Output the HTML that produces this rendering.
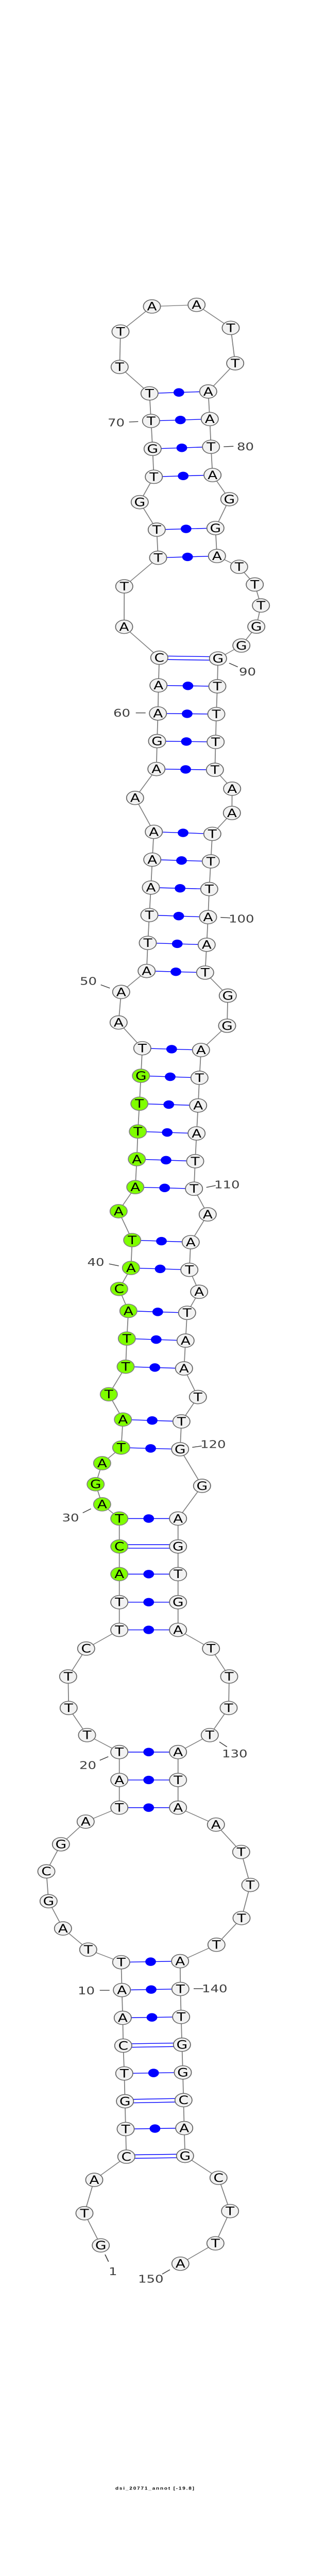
<!DOCTYPE html>
<html>
<head>
<meta charset="utf-8">
<style>
html,body{margin:0;padding:0;background:#fff;width:100%;height:100%;overflow:hidden}
svg{display:block;position:absolute;left:0;top:0;width:100vw;height:100vh}
.n text{font-family:"DejaVu Sans",sans-serif;font-size:28px;fill:#000;text-anchor:middle}
.l text{font-family:"DejaVu Sans",sans-serif;font-size:26px;fill:#404040}
.w circle{fill:#f2f2f2;stroke:#666;stroke-width:1.8}
.g circle{fill:#7fff00;stroke:#808080;stroke-width:1.8}
</style>
</head>
<body>
<svg xmlns="http://www.w3.org/2000/svg" viewBox="0 0 600 6332" preserveAspectRatio="none">
<rect width="600" height="6332" fill="#fff"/>
<!-- backbone -->
<polyline fill="none" stroke="#808080" stroke-width="1.8" points="195.7,5519.3 164,5440.3 183,5358.3 245.3,5301.3 244,5233.3 242.7,5165 241.3,5096.7 239.3,5028.3 238.3,4960 236.7,4891.7 235.3,4823.3 171.3,4792.3 122.3,4740.3 94.3,4673.3 90,4600 118.3,4533.3 166.3,4477.7 231.7,4443.3 231.7,4375.3 231.7,4306.7 169,4265 133.3,4198.3 132.3,4121 167.3,4052.3 231.7,4006.3 231.7,3938.3 231.7,3869.3 231.7,3801.3 231.7,3732.7 198.3,3697.7 185.7,3648.3 198.3,3596.7 235.3,3558.3 238.7,3489.3 211.3,3427.3 244,3359.3 246.3,3290.3 249.3,3222.3 231.3,3168.3 254.3,3116.7 256.7,3048.3 230.3,2977.3 262.7,2918 265.7,2849.3 267.7,2781.3 270.7,2713 273.7,2644.3 276.3,2576.7 230.3,2513.3 235.3,2438.3 284.7,2386.7 287,2317.7 290,2249.3 293,2181.7 295.7,2113 298.7,2044.7 262.3,1961.3 303.7,1890.3 305,1821.7 306.7,1753.7 307.7,1684.7 309.3,1616.7 241,1540.7 241.3,1441.3 307,1371 304.3,1302 271.3,1234.3 298.7,1172 296.3,1103.3 293.3,1034.7 290.3,967 232.3,902 234,815 295,753.3 381.7,749.3 448,806 456.7,893 404.3,962.3 407.3,1030 409.7,1098.3 412.7,1167.7 445.3,1227 418.3,1298 421.3,1366.7 464.3,1393.3 494.7,1436.7 506.7,1488.3 497.7,1540.3 468.7,1586.7 423.3,1618.7 422,1687 420,1755.3 418.7,1823.7 417.3,1892.3 450.7,1938.7 450.3,1998.3 412.3,2049.7 409.3,2117.3 406.3,2185.3 404,2254.3 401.3,2322.3 398.3,2390.7 442.3,2447.3 441,2521.3 390.3,2581 387.3,2649.3 384.7,2717.3 381.7,2786 379,2854.3 376.7,2922 403.3,2985 370.3,3053.3 367.7,3121.3 386.7,3175.3 363.3,3227 360.3,3295.3 357.3,3363.7 384.3,3434 352.3,3494 349.7,3562.3 392.3,3652.3 345.7,3732.7 345.7,3801.3 345.7,3869.3 345.7,3938.3 345.7,4006.3 409.7,4052.3 445,4121 444,4198.3 407.3,4265 345.7,4306.7 345.7,4375.3 345.7,4443.3 419.3,4485 468.3,4552.3 486,4633.3 469,4714.7 420.3,4780.3 349.7,4820.7 350.3,4889 351.7,4957.7 353.3,5026 355,5094.3 356.3,5162.3 357.7,5231 359.3,5299.3 424.3,5353.3 446.7,5435 418.3,5514.3 350.3,5564.3"/>
<!-- base pairs -->
<path fill="none" stroke="#0000ff" stroke-width="1.8" d="M309.3,1612.4L423.3,1614.4M309.3,1621L423.3,1623M231.7,3797L345.7,3797M231.7,3805.6L345.7,3805.6M239.3,5024L353.3,5021.7M239.3,5032.6L353.3,5030.3M242.7,5160.7L356.3,5158M242.7,5169.3L356.3,5166.6M245.3,5297L359.3,5295M245.3,5305.6L359.3,5303.6M244,5233.3L357.7,5231M241.3,5096.7L355,5094.3M238.3,4960L351.7,4957.7M236.7,4891.7L350.3,4889M235.3,4823.3L349.7,4820.7M231.7,4443.3L345.7,4443.3M231.7,4375.3L345.7,4375.3M231.7,4306.7L345.7,4306.7M231.7,4006.3L345.7,4006.3M231.7,3938.3L345.7,3938.3M231.7,3869.3L345.7,3869.3M231.7,3732.7L345.7,3732.7M235.3,3558.3L349.7,3562.3M238.7,3489.3L352.3,3494M244,3359.3L357.3,3363.7M246.3,3290.3L360.3,3295.3M249.3,3222.3L363.3,3227M254.3,3116.7L367.7,3121.3M256.7,3048.3L370.3,3053.3M262.7,2918L376.7,2922M265.7,2849.3L379,2854.3M267.7,2781.3L381.7,2786M270.7,2713L384.7,2717.3M273.7,2644.3L387.3,2649.3M276.3,2576.7L390.3,2581M284.7,2386.7L398.3,2390.7M287,2317.7L401.3,2322.3M290,2249.3L404,2254.3M293,2181.7L406.3,2185.3M295.7,2113L409.3,2117.3M298.7,2044.7L412.3,2049.7M303.7,1890.3L417.3,1892.3M305,1821.7L418.7,1823.7M306.7,1753.7L420,1755.3M307.7,1684.7L422,1687M307,1371L421.3,1366.7M304.3,1302L418.3,1298M298.7,1172L412.7,1167.7M296.3,1103.3L409.7,1098.3M293.3,1034.7L407.3,1030M290.3,967L404.3,962.3"/>
<g fill="#0000ff">
<circle cx="300.9" cy="5232.2" r="10.4"/><circle cx="298.2" cy="5095.5" r="10.4"/><circle cx="295" cy="4958.9" r="10.4"/><circle cx="293.5" cy="4890.4" r="10.4"/><circle cx="292.5" cy="4822" r="10.4"/>
<circle cx="288.7" cy="4443.3" r="10.4"/><circle cx="288.7" cy="4375.3" r="10.4"/><circle cx="288.7" cy="4306.7" r="10.4"/><circle cx="288.7" cy="4006.3" r="10.4"/><circle cx="288.7" cy="3938.3" r="10.4"/><circle cx="288.7" cy="3869.3" r="10.4"/><circle cx="288.7" cy="3732.7" r="10.4"/>
<circle cx="292.5" cy="3560.3" r="10.4"/><circle cx="295.5" cy="3491.7" r="10.4"/><circle cx="300.7" cy="3361.5" r="10.4"/><circle cx="303.3" cy="3292.8" r="10.4"/><circle cx="306.3" cy="3224.7" r="10.4"/><circle cx="311" cy="3119" r="10.4"/><circle cx="313.5" cy="3050.8" r="10.4"/>
<circle cx="319.7" cy="2920" r="10.4"/><circle cx="322.4" cy="2851.8" r="10.4"/><circle cx="324.7" cy="2783.7" r="10.4"/><circle cx="327.7" cy="2715.2" r="10.4"/><circle cx="330.5" cy="2646.8" r="10.4"/><circle cx="333.3" cy="2578.9" r="10.4"/>
<circle cx="341.5" cy="2388.7" r="10.4"/><circle cx="344.2" cy="2320" r="10.4"/><circle cx="347" cy="2251.8" r="10.4"/><circle cx="349.7" cy="2183.5" r="10.4"/><circle cx="352.5" cy="2115.2" r="10.4"/><circle cx="355.5" cy="2047.2" r="10.4"/>
<circle cx="360.5" cy="1891.3" r="10.4"/><circle cx="361.9" cy="1822.7" r="10.4"/><circle cx="363.4" cy="1754.5" r="10.4"/><circle cx="364.9" cy="1685.9" r="10.4"/>
<circle cx="364.2" cy="1368.9" r="10.4"/><circle cx="361.3" cy="1300" r="10.4"/><circle cx="355.7" cy="1169.9" r="10.4"/><circle cx="353" cy="1100.8" r="10.4"/><circle cx="350.3" cy="1032.4" r="10.4"/><circle cx="347.3" cy="964.7" r="10.4"/>
</g>
<!-- number ticks -->
<path fill="none" stroke="#404040" stroke-width="1.8" d="M250.7,1037.3L268.3,1036.3M434.3,1098L453.3,1097M445,1630L461.7,1639.3M263.7,1752.3L282.7,1752.3M428.3,2255L447.3,2256.3M195.7,2420.7L213.3,2429M400.7,2918.7L418.7,2914M211.7,3106.7L230.7,3111.7M373.3,3557.7L391.7,3554.3M160.7,3718.7L176.7,3708.7M193.7,4327L210.3,4318M426,4281.7L440.7,4294M193.7,4892.3L212.7,4892.3M376,4888.3L394.7,4888.3M204,5541.7L210.7,5559.3M330,5579L315,5590"/>
<!-- nodes: white -->
<g class="w">
<circle cx="195.7" cy="5519.3" r="16.6"/><circle cx="164" cy="5440.3" r="16.6"/><circle cx="183" cy="5358.3" r="16.6"/><circle cx="245.3" cy="5301.3" r="16.6"/><circle cx="244" cy="5233.3" r="16.6"/><circle cx="242.7" cy="5165" r="16.6"/><circle cx="241.3" cy="5096.7" r="16.6"/><circle cx="239.3" cy="5028.3" r="16.6"/><circle cx="238.3" cy="4960" r="16.6"/><circle cx="236.7" cy="4891.7" r="16.6"/><circle cx="235.3" cy="4823.3" r="16.6"/><circle cx="171.3" cy="4792.3" r="16.6"/><circle cx="122.3" cy="4740.3" r="16.6"/><circle cx="94.3" cy="4673.3" r="16.6"/><circle cx="90" cy="4600" r="16.6"/><circle cx="118.3" cy="4533.3" r="16.6"/><circle cx="166.3" cy="4477.7" r="16.6"/><circle cx="231.7" cy="4443.3" r="16.6"/><circle cx="231.7" cy="4375.3" r="16.6"/><circle cx="231.7" cy="4306.7" r="16.6"/><circle cx="169" cy="4265" r="16.6"/><circle cx="133.3" cy="4198.3" r="16.6"/><circle cx="132.3" cy="4121" r="16.6"/><circle cx="167.3" cy="4052.3" r="16.6"/><circle cx="231.7" cy="4006.3" r="16.6"/><circle cx="231.7" cy="3938.3" r="16.6"/>
<circle cx="276.3" cy="2576.7" r="16.6"/><circle cx="230.3" cy="2513.3" r="16.6"/><circle cx="235.3" cy="2438.3" r="16.6"/><circle cx="284.7" cy="2386.7" r="16.6"/><circle cx="287" cy="2317.7" r="16.6"/><circle cx="290" cy="2249.3" r="16.6"/><circle cx="293" cy="2181.7" r="16.6"/><circle cx="295.7" cy="2113" r="16.6"/><circle cx="298.7" cy="2044.7" r="16.6"/><circle cx="262.3" cy="1961.3" r="16.6"/><circle cx="303.7" cy="1890.3" r="16.6"/><circle cx="305" cy="1821.7" r="16.6"/><circle cx="306.7" cy="1753.7" r="16.6"/><circle cx="307.7" cy="1684.7" r="16.6"/><circle cx="309.3" cy="1616.7" r="16.6"/><circle cx="241" cy="1540.7" r="16.6"/><circle cx="241.3" cy="1441.3" r="16.6"/><circle cx="307" cy="1371" r="16.6"/><circle cx="304.3" cy="1302" r="16.6"/><circle cx="271.3" cy="1234.3" r="16.6"/><circle cx="298.7" cy="1172" r="16.6"/><circle cx="296.3" cy="1103.3" r="16.6"/><circle cx="293.3" cy="1034.7" r="16.6"/><circle cx="290.3" cy="967" r="16.6"/><circle cx="232.3" cy="902" r="16.6"/><circle cx="234" cy="815" r="16.6"/><circle cx="295" cy="753.3" r="16.6"/><circle cx="381.7" cy="749.3" r="16.6"/><circle cx="448" cy="806" r="16.6"/><circle cx="456.7" cy="893" r="16.6"/><circle cx="404.3" cy="962.3" r="16.6"/><circle cx="407.3" cy="1030" r="16.6"/><circle cx="409.7" cy="1098.3" r="16.6"/><circle cx="412.7" cy="1167.7" r="16.6"/><circle cx="445.3" cy="1227" r="16.6"/><circle cx="418.3" cy="1298" r="16.6"/><circle cx="421.3" cy="1366.7" r="16.6"/><circle cx="464.3" cy="1393.3" r="16.6"/><circle cx="494.7" cy="1436.7" r="16.6"/><circle cx="506.7" cy="1488.3" r="16.6"/><circle cx="497.7" cy="1540.3" r="16.6"/><circle cx="468.7" cy="1586.7" r="16.6"/><circle cx="423.3" cy="1618.7" r="16.6"/><circle cx="422" cy="1687" r="16.6"/><circle cx="420" cy="1755.3" r="16.6"/><circle cx="418.7" cy="1823.7" r="16.6"/><circle cx="417.3" cy="1892.3" r="16.6"/><circle cx="450.7" cy="1938.7" r="16.6"/><circle cx="450.3" cy="1998.3" r="16.6"/><circle cx="412.3" cy="2049.7" r="16.6"/><circle cx="409.3" cy="2117.3" r="16.6"/><circle cx="406.3" cy="2185.3" r="16.6"/><circle cx="404" cy="2254.3" r="16.6"/><circle cx="401.3" cy="2322.3" r="16.6"/><circle cx="398.3" cy="2390.7" r="16.6"/><circle cx="442.3" cy="2447.3" r="16.6"/><circle cx="441" cy="2521.3" r="16.6"/><circle cx="390.3" cy="2581" r="16.6"/><circle cx="387.3" cy="2649.3" r="16.6"/><circle cx="384.7" cy="2717.3" r="16.6"/><circle cx="381.7" cy="2786" r="16.6"/><circle cx="379" cy="2854.3" r="16.6"/><circle cx="376.7" cy="2922" r="16.6"/><circle cx="403.3" cy="2985" r="16.6"/><circle cx="370.3" cy="3053.3" r="16.6"/><circle cx="367.7" cy="3121.3" r="16.6"/><circle cx="386.7" cy="3175.3" r="16.6"/><circle cx="363.3" cy="3227" r="16.6"/><circle cx="360.3" cy="3295.3" r="16.6"/><circle cx="357.3" cy="3363.7" r="16.6"/><circle cx="384.3" cy="3434" r="16.6"/><circle cx="352.3" cy="3494" r="16.6"/><circle cx="349.7" cy="3562.3" r="16.6"/><circle cx="392.3" cy="3652.3" r="16.6"/><circle cx="345.7" cy="3732.7" r="16.6"/><circle cx="345.7" cy="3801.3" r="16.6"/><circle cx="345.7" cy="3869.3" r="16.6"/><circle cx="345.7" cy="3938.3" r="16.6"/><circle cx="345.7" cy="4006.3" r="16.6"/><circle cx="409.7" cy="4052.3" r="16.6"/><circle cx="445" cy="4121" r="16.6"/><circle cx="444" cy="4198.3" r="16.6"/><circle cx="407.3" cy="4265" r="16.6"/><circle cx="345.7" cy="4306.7" r="16.6"/><circle cx="345.7" cy="4375.3" r="16.6"/><circle cx="345.7" cy="4443.3" r="16.6"/><circle cx="419.3" cy="4485" r="16.6"/><circle cx="468.3" cy="4552.3" r="16.6"/><circle cx="486" cy="4633.3" r="16.6"/><circle cx="469" cy="4714.7" r="16.6"/><circle cx="420.3" cy="4780.3" r="16.6"/><circle cx="349.7" cy="4820.7" r="16.6"/><circle cx="350.3" cy="4889" r="16.6"/><circle cx="351.7" cy="4957.7" r="16.6"/><circle cx="353.3" cy="5026" r="16.6"/><circle cx="355" cy="5094.3" r="16.6"/><circle cx="356.3" cy="5162.3" r="16.6"/><circle cx="357.7" cy="5231" r="16.6"/><circle cx="359.3" cy="5299.3" r="16.6"/><circle cx="424.3" cy="5353.3" r="16.6"/><circle cx="446.7" cy="5435" r="16.6"/><circle cx="418.3" cy="5514.3" r="16.6"/><circle cx="350.3" cy="5564.3" r="16.6"/>
</g>
<!-- nodes: green -->
<g class="g">
<circle cx="231.7" cy="3869.3" r="16.6"/><circle cx="231.7" cy="3801.3" r="16.6"/><circle cx="231.7" cy="3732.7" r="16.6"/><circle cx="198.3" cy="3697.7" r="16.6"/><circle cx="185.7" cy="3648.3" r="16.6"/><circle cx="198.3" cy="3596.7" r="16.6"/><circle cx="235.3" cy="3558.3" r="16.6"/><circle cx="238.7" cy="3489.3" r="16.6"/><circle cx="211.3" cy="3427.3" r="16.6"/><circle cx="244" cy="3359.3" r="16.6"/><circle cx="246.3" cy="3290.3" r="16.6"/><circle cx="249.3" cy="3222.3" r="16.6"/><circle cx="231.3" cy="3168.3" r="16.6"/><circle cx="254.3" cy="3116.7" r="16.6"/><circle cx="256.7" cy="3048.3" r="16.6"/><circle cx="230.3" cy="2977.3" r="16.6"/><circle cx="262.7" cy="2918" r="16.6"/><circle cx="265.7" cy="2849.3" r="16.6"/><circle cx="267.7" cy="2781.3" r="16.6"/><circle cx="270.7" cy="2713" r="16.6"/><circle cx="273.7" cy="2644.3" r="16.6"/>
</g>
<!-- letters -->
<g class="n" transform="translate(0,10)">
<text x="195.7" y="5519.3">G</text><text x="164" y="5440.3">T</text><text x="183" y="5358.3">A</text><text x="245.3" y="5301.3">C</text><text x="244" y="5233.3">T</text><text x="242.7" y="5165">G</text><text x="241.3" y="5096.7">T</text><text x="239.3" y="5028.3">C</text><text x="238.3" y="4960">A</text><text x="236.7" y="4891.7">A</text><text x="235.3" y="4823.3">T</text><text x="171.3" y="4792.3">T</text><text x="122.3" y="4740.3">A</text><text x="94.3" y="4673.3">G</text><text x="90" y="4600">C</text><text x="118.3" y="4533.3">G</text><text x="166.3" y="4477.7">A</text><text x="231.7" y="4443.3">T</text><text x="231.7" y="4375.3">A</text><text x="231.7" y="4306.7">T</text><text x="169" y="4265">T</text><text x="133.3" y="4198.3">T</text><text x="132.3" y="4121">T</text><text x="167.3" y="4052.3">C</text><text x="231.7" y="4006.3">T</text><text x="231.7" y="3938.3">T</text><text x="231.7" y="3869.3">A</text><text x="231.7" y="3801.3">C</text><text x="231.7" y="3732.7">T</text><text x="198.3" y="3697.7">A</text><text x="185.7" y="3648.3">G</text><text x="198.3" y="3596.7">A</text><text x="235.3" y="3558.3">T</text><text x="238.7" y="3489.3">A</text><text x="211.3" y="3427.3">T</text><text x="244" y="3359.3">T</text><text x="246.3" y="3290.3">T</text><text x="249.3" y="3222.3">A</text><text x="231.3" y="3168.3">C</text><text x="254.3" y="3116.7">A</text><text x="256.7" y="3048.3">T</text><text x="230.3" y="2977.3">A</text><text x="262.7" y="2918">A</text><text x="265.7" y="2849.3">A</text><text x="267.7" y="2781.3">T</text><text x="270.7" y="2713">T</text><text x="273.7" y="2644.3">G</text><text x="276.3" y="2576.7">T</text><text x="230.3" y="2513.3">A</text><text x="235.3" y="2438.3">A</text><text x="284.7" y="2386.7">A</text><text x="287" y="2317.7">T</text><text x="290" y="2249.3">T</text><text x="293" y="2181.7">A</text><text x="295.7" y="2113">A</text><text x="298.7" y="2044.7">A</text><text x="262.3" y="1961.3">A</text><text x="303.7" y="1890.3">A</text><text x="305" y="1821.7">G</text><text x="306.7" y="1753.7">A</text><text x="307.7" y="1684.7">A</text><text x="309.3" y="1616.7">C</text><text x="241" y="1540.7">A</text><text x="241.3" y="1441.3">T</text><text x="307" y="1371">T</text><text x="304.3" y="1302">T</text><text x="271.3" y="1234.3">G</text><text x="298.7" y="1172">T</text><text x="296.3" y="1103.3">G</text><text x="293.3" y="1034.7">T</text><text x="290.3" y="967">T</text><text x="232.3" y="902">T</text><text x="234" y="815">T</text><text x="295" y="753.3">A</text><text x="381.7" y="749.3">A</text><text x="448" y="806">T</text><text x="456.7" y="893">T</text><text x="404.3" y="962.3">A</text><text x="407.3" y="1030">A</text><text x="409.7" y="1098.3">T</text><text x="412.7" y="1167.7">A</text><text x="445.3" y="1227">G</text><text x="418.3" y="1298">G</text><text x="421.3" y="1366.7">A</text><text x="464.3" y="1393.3">T</text><text x="494.7" y="1436.7">T</text><text x="506.7" y="1488.3">T</text><text x="497.7" y="1540.3">G</text><text x="468.7" y="1586.7">G</text><text x="423.3" y="1618.7">G</text><text x="422" y="1687">T</text><text x="420" y="1755.3">T</text><text x="418.7" y="1823.7">T</text><text x="417.3" y="1892.3">T</text><text x="450.7" y="1938.7">A</text><text x="450.3" y="1998.3">A</text><text x="412.3" y="2049.7">T</text><text x="409.3" y="2117.3">T</text><text x="406.3" y="2185.3">T</text><text x="404" y="2254.3">A</text><text x="401.3" y="2322.3">A</text><text x="398.3" y="2390.7">T</text><text x="442.3" y="2447.3">G</text><text x="441" y="2521.3">G</text><text x="390.3" y="2581">A</text><text x="387.3" y="2649.3">T</text><text x="384.7" y="2717.3">A</text><text x="381.7" y="2786">A</text><text x="379" y="2854.3">T</text><text x="376.7" y="2922">T</text><text x="403.3" y="2985">A</text><text x="370.3" y="3053.3">A</text><text x="367.7" y="3121.3">T</text><text x="386.7" y="3175.3">A</text><text x="363.3" y="3227">T</text><text x="360.3" y="3295.3">A</text><text x="357.3" y="3363.7">A</text><text x="384.3" y="3434">T</text><text x="352.3" y="3494">T</text><text x="349.7" y="3562.3">G</text><text x="392.3" y="3652.3">G</text><text x="345.7" y="3732.7">A</text><text x="345.7" y="3801.3">G</text><text x="345.7" y="3869.3">T</text><text x="345.7" y="3938.3">G</text><text x="345.7" y="4006.3">A</text><text x="409.7" y="4052.3">T</text><text x="445" y="4121">T</text><text x="444" y="4198.3">T</text><text x="407.3" y="4265">T</text><text x="345.7" y="4306.7">A</text><text x="345.7" y="4375.3">T</text><text x="345.7" y="4443.3">A</text><text x="419.3" y="4485">A</text><text x="468.3" y="4552.3">T</text><text x="486" y="4633.3">T</text><text x="469" y="4714.7">T</text><text x="420.3" y="4780.3">T</text><text x="349.7" y="4820.7">A</text><text x="350.3" y="4889">T</text><text x="351.7" y="4957.7">T</text><text x="353.3" y="5026">G</text><text x="355" y="5094.3">G</text><text x="356.3" y="5162.3">C</text><text x="357.7" y="5231">A</text><text x="359.3" y="5299.3">G</text><text x="424.3" y="5353.3">C</text><text x="446.7" y="5435">T</text><text x="418.3" y="5514.3">T</text><text x="350.3" y="5564.3">A</text>
</g>
<!-- numbers -->
<g class="l">
<text x="209" y="1048">70</text>
<text x="460" y="1106.7">80</text>
<text x="464" y="1660">90</text>
<text x="220" y="1761.3">60</text>
<text x="444" y="2267.7">100</text>
<text x="155" y="2421">50</text>
<text x="416" y="2920.7">110</text>
<text x="169.5" y="3111.7">40</text>
<text x="389" y="3559.3">120</text>
<text x="120.5" y="3740">30</text>
<text x="154" y="4348.3">20</text>
<text x="431" y="4320">130</text>
<text x="151" y="4902.3">10</text>
<text x="392" y="4897.3">140</text>
<text x="211" y="5592.7">1</text>
<text x="268" y="5611">150</text>
</g>
<text x="224" y="6120" font-family="'Liberation Sans',sans-serif" font-size="10" font-weight="bold" fill="#000" textLength="153" lengthAdjust="spacing">dsi_20771_annot [-19.8]</text>
</svg>
</body>
</html>
